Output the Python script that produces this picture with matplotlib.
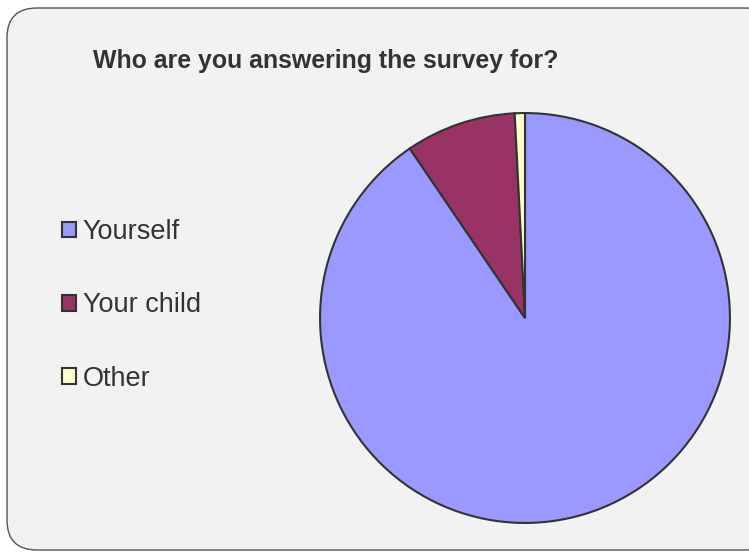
import matplotlib.pyplot as plt
from matplotlib.patches import FancyBboxPatch

# 데이터
labels = ['Yourself', 'Your child', 'Other']
values = [90.5, 8.7, 0.8]
colors = ['#9999ff', '#993366', '#ffffcc']
title = 'Who are you answering the survey for?'

plt.rcParams['font.family'] = ['Liberation Sans', 'DejaVu Sans']

W, H = 749, 557
fig = plt.figure(figsize=(W / 100, H / 100), dpi=100)
fig.patch.set_facecolor('white')

# 둥근 테두리 배경
bg = FancyBboxPatch((7 / W, 7 / H), (W + 20) / W, (H - 15) / H,
                    boxstyle='round,pad=0,rounding_size=0.04',
                    transform=fig.transFigure, facecolor='#f2f2f2',
                    edgecolor='#555555', linewidth=1.0, mutation_aspect=W / H,
                    zorder=-10)
fig.patches.append(bg)

# 파이 차트
cx, cy, r = 525, 318, 207
ax = fig.add_axes([(cx - r) / W, (H - cy - r) / H, 2 * r / W, 2 * r / H])
ax.set_zorder(5)
wedges, _ = ax.pie(values, colors=colors, startangle=90, counterclock=False,
                   radius=1.0,
                   wedgeprops=dict(edgecolor='#333333', linewidth=1.5))
ax.set_xlim(-1.01, 1.01)
ax.set_ylim(-1.01, 1.01)
ax.set_aspect('equal')
ax.axis('off')

fig.text(93 / W, 1 - 61 / H, title, fontsize=17.9, fontweight='bold',
         color='#333333', va='center', ha='left')

leg = fig.legend(wedges, labels, loc='upper left',
                 bbox_to_anchor=(62 / W, 1 - 219 / H), frameon=False,
                 fontsize=19.5, labelcolor='#333333', handlelength=0.52,
                 handleheight=0.52, handletextpad=0.25, labelspacing=1.75,
                 borderpad=0, borderaxespad=0)

fig.savefig('out.png', dpi=100)
